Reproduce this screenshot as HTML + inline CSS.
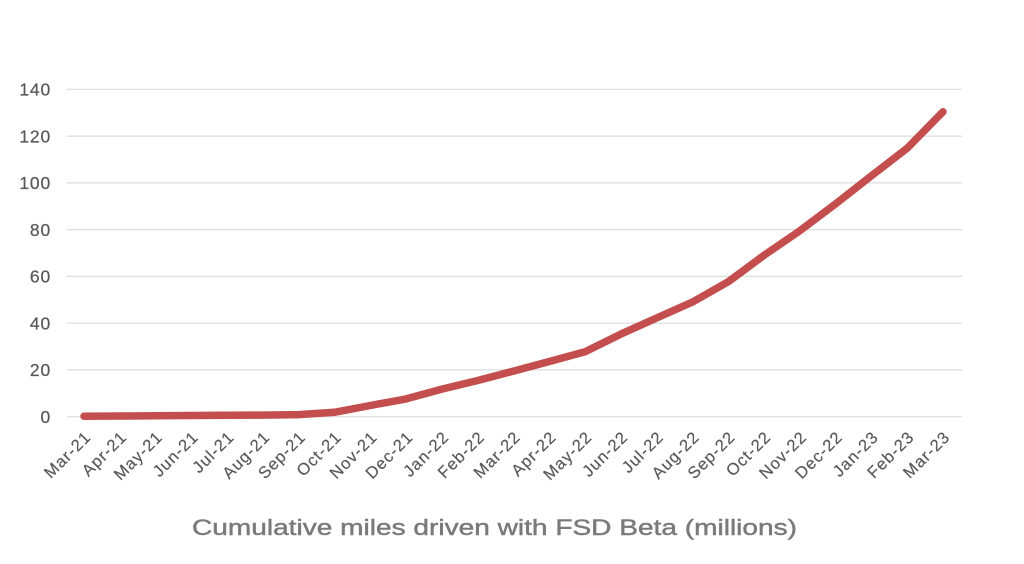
<!DOCTYPE html>
<html>
<head>
<meta charset="utf-8">
<style>
  html, body { margin:0; padding:0; background:#ffffff; }
  svg { display:block; }
  .yl { font-family:"Liberation Sans", sans-serif; font-size:17.5px; fill:#595959; stroke:#595959; stroke-width:0.25px; text-anchor:end; letter-spacing:0.8px; }
  .xl { font-family:"Liberation Sans", sans-serif; font-size:16.5px; fill:#595959; stroke:#595959; stroke-width:0.2px; text-anchor:end; letter-spacing:1.0px; }
  .tt { font-family:"Liberation Sans", sans-serif; font-size:22px; fill:#7a7a7a; stroke:#7a7a7a; stroke-width:0.45px; }
</style>
</head>
<body>
<svg width="1024" height="564" viewBox="0 0 1024 564" xmlns="http://www.w3.org/2000/svg">
  <rect width="1024" height="564" fill="#ffffff"/>
  <g stroke="#dcdcdc" stroke-width="1.2">
    <line x1="67" y1="89.3" x2="962" y2="89.3"/>
    <line x1="67" y1="136.1" x2="962" y2="136.1"/>
    <line x1="67" y1="182.9" x2="962" y2="182.9"/>
    <line x1="67" y1="229.6" x2="962" y2="229.6"/>
    <line x1="67" y1="276.4" x2="962" y2="276.4"/>
    <line x1="67" y1="323.2" x2="962" y2="323.2"/>
    <line x1="67" y1="369.9" x2="962" y2="369.9"/>
    <line x1="67" y1="416.7" x2="962" y2="416.7"/>
  </g>
  <g class="yl">
    <text x="51" y="95.5">140</text>
    <text x="51" y="142.3">120</text>
    <text x="51" y="189.1">100</text>
    <text x="51" y="235.8">80</text>
    <text x="51" y="282.6">60</text>
    <text x="51" y="329.4">40</text>
    <text x="51" y="376.1">20</text>
    <text x="51" y="422.9">0</text>
  </g>
  <polyline fill="none" stroke="#c44e4e" stroke-width="7.5" stroke-linecap="round" stroke-linejoin="round"
    points="84,416.2 119.8,416.0 155.6,415.8 191.4,415.5 227.2,415.3 263.0,415.1 298.7,414.6 334.5,412.3 370.3,405.5 406.1,398.9 441.9,389.1 477.7,380.5 513.5,371.1 549.3,361.5 585.1,351.7 620.9,334.1 656.6,318.0 692.4,302.1 728.2,281.8 764.0,255.3 799.8,230.8 835.6,203.9 871.4,175.8 907.2,148.2 943.0,111.7"/>
  <g class="xl">
    <text transform="translate(92,438) rotate(-45)">Mar-21</text>
    <text transform="translate(127.8,438) rotate(-45)">Apr-21</text>
    <text transform="translate(163.6,438) rotate(-45)">May-21</text>
    <text transform="translate(199.4,438) rotate(-45)">Jun-21</text>
    <text transform="translate(235.2,438) rotate(-45)">Jul-21</text>
    <text transform="translate(271.0,438) rotate(-45)">Aug-21</text>
    <text transform="translate(306.7,438) rotate(-45)">Sep-21</text>
    <text transform="translate(342.5,438) rotate(-45)">Oct-21</text>
    <text transform="translate(378.3,438) rotate(-45)">Nov-21</text>
    <text transform="translate(414.1,438) rotate(-45)">Dec-21</text>
    <text transform="translate(449.9,438) rotate(-45)">Jan-22</text>
    <text transform="translate(485.7,438) rotate(-45)">Feb-22</text>
    <text transform="translate(521.5,438) rotate(-45)">Mar-22</text>
    <text transform="translate(557.3,438) rotate(-45)">Apr-22</text>
    <text transform="translate(593.1,438) rotate(-45)">May-22</text>
    <text transform="translate(628.9,438) rotate(-45)">Jun-22</text>
    <text transform="translate(664.6,438) rotate(-45)">Jul-22</text>
    <text transform="translate(700.4,438) rotate(-45)">Aug-22</text>
    <text transform="translate(736.2,438) rotate(-45)">Sep-22</text>
    <text transform="translate(772.0,438) rotate(-45)">Oct-22</text>
    <text transform="translate(807.8,438) rotate(-45)">Nov-22</text>
    <text transform="translate(843.6,438) rotate(-45)">Dec-22</text>
    <text transform="translate(879.4,438) rotate(-45)">Jan-23</text>
    <text transform="translate(915.2,438) rotate(-45)">Feb-23</text>
    <text transform="translate(951.0,438) rotate(-45)">Mar-23</text>
  </g>
  <text class="tt" x="192" y="535" textLength="605" lengthAdjust="spacingAndGlyphs">Cumulative miles driven with FSD Beta (millions)</text>
</svg>
</body>
</html>
